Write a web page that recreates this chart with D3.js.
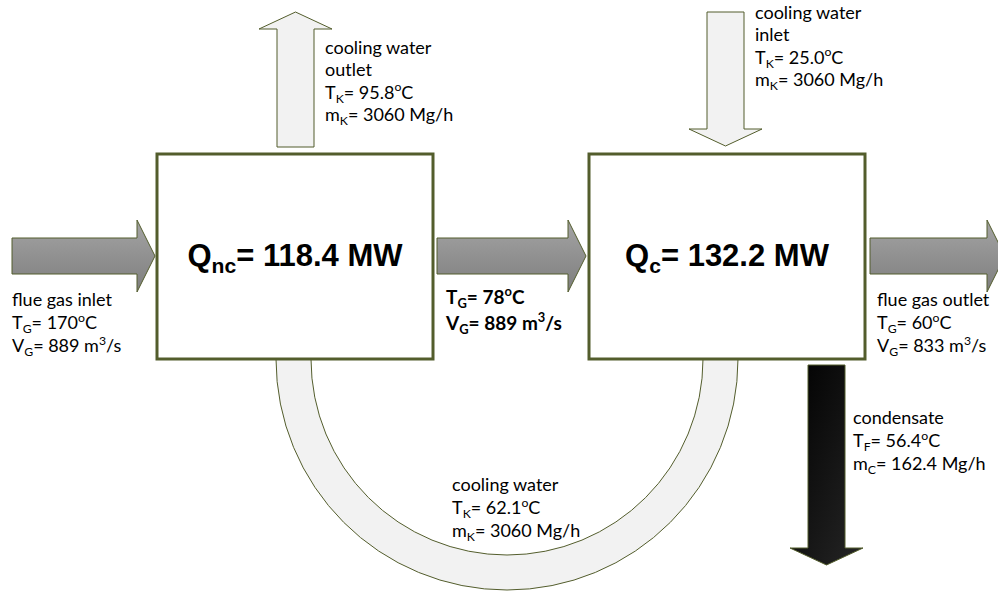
<!DOCTYPE html>
<html>
<head>
<meta charset="utf-8">
<script src="https://cdn.jsdelivr.net/npm/d3@7"></script>
<style>
  body { margin: 0; background: #fff; }
  svg { display: block; }
  .lbl { font-family: Lato, "Open Sans", sans-serif; font-size: 18px; fill: #000; }
  .bold { font-weight: bold; font-size: 19px; }
  .heat { font-family: "Liberation Sans", Arial, sans-serif; font-weight: bold; font-size: 31px; }
</style>
</head>
<body>
<div id="chart"></div>
<script>
const width = 998;
const height = 591;

// exchanger duties
const heatNames = ["nc", "c"];
const heatValues = [118.4, 132.2];

// flue gas: inlet, between exchangers, outlet
const gasNames = ["flue gas inlet", "", "flue gas outlet"];
const gasTemps = ["170", "78", "60"];
const gasFlows = [889, 889, 833];

// cooling water: inlet, between, outlet
const waterNames = [["cooling water", "inlet"], ["cooling water"], ["cooling water", "outlet"]];
const waterTemps = ["25.0", "62.1", "95.8"];
const waterFlows = [3060, 3060, 3060];

// condensate
const condName = "condensate";
const condTemp = "56.4";
const condFlow = "162.4";

const svg = d3.select("#chart")
  .append("svg")
  .attr("width", width)
  .attr("height", height);

const defs = svg.append("defs");

const gGrey = defs.append("linearGradient")
  .attr("id", "grey").attr("x1", 0).attr("y1", 0).attr("x2", 0).attr("y2", 1);
gGrey.append("stop").attr("offset", "0%").attr("stop-color", "#a4a4a4");
gGrey.append("stop").attr("offset", "100%").attr("stop-color", "#7e7e7e");

const gBlack = defs.append("linearGradient")
  .attr("id", "black").attr("x1", 0).attr("y1", 0).attr("x2", 1).attr("y2", 1);
gBlack.append("stop").attr("offset", "0%").attr("stop-color", "#000");
gBlack.append("stop").attr("offset", "100%").attr("stop-color", "#262626");

const olive = "#535d2c";

// U-shaped cooling water pipe
const arc = d3.arc()
  .innerRadius(196)
  .outerRadius(231)
  .startAngle(Math.PI / 2)
  .endAngle(Math.PI * 3 / 2);

svg.append("path")
  .attr("d", arc())
  .attr("transform", "translate(507,359)")
  .attr("fill", "#f2f2f2")
  .attr("stroke", olive)
  .attr("stroke-width", 1);

// exchanger boxes
const boxes = [
  { x: 157, y: 154, w: 276, h: 205 },
  { x: 589, y: 154, w: 276, h: 205 }
];

svg.selectAll(".box")
  .data(boxes)
  .enter()
  .append("rect")
  .attr("class", "box")
  .attr("x", d => d.x)
  .attr("y", d => d.y)
  .attr("width", d => d.w)
  .attr("height", d => d.h)
  .attr("fill", "#fff")
  .attr("stroke", olive)
  .attr("stroke-width", 3);

const line = d3.line();

// horizontal arrow pointing right
function rightArrow(x0, x1, cy) {
  const xb = x1 - 18;
  return line([
    [x0, cy - 18], [xb, cy - 18], [xb, cy - 36], [x1, cy],
    [xb, cy + 36], [xb, cy + 18], [x0, cy + 18]
  ]) + "Z";
}

// vertical arrow, tip at y1 (up if y1 < y0)
function vArrow(cx, y0, y1) {
  const s = y1 < y0 ? -1 : 1;
  const yb = y1 - s * 17;
  return line([
    [cx - 18.5, y0], [cx - 18.5, yb], [cx - 36.5, yb], [cx, y1],
    [cx + 36.5, yb], [cx + 18.5, yb], [cx + 18.5, y0]
  ]) + "Z";
}

const gasArrows = [[12, 155], [437, 586], [870, 1005]];
svg.selectAll(".gas")
  .data(gasArrows)
  .enter()
  .append("path")
  .attr("class", "gas")
  .attr("d", d => rightArrow(d[0], d[1], 256))
  .attr("fill", "url(#grey)")
  .attr("stroke", olive)
  .attr("stroke-width", 1);

svg.append("path")
  .attr("d", vArrow(295.5, 147, 12))
  .attr("fill", "#f2f2f2")
  .attr("stroke", olive);

svg.append("path")
  .attr("d", vArrow(725.5, 12, 146))
  .attr("fill", "#f2f2f2")
  .attr("stroke", olive);

svg.append("path")
  .attr("d", vArrow(826.5, 365, 565))
  .attr("fill", "url(#black)")
  .attr("stroke", olive);

// text with _{sub} and ^{sup} markup
function rich(sel, str) {
  const parts = str.split(/([_^]\{[^}]*\})/).filter(s => s.length);
  let shift = 0;
  parts.forEach(p => {
    const t = sel.append("tspan");
    let target = 0;
    let txt = p;
    if (p[0] === "_") { target = 0.22; txt = p.slice(2, -1); t.attr("font-size", "68%"); }
    else if (p[0] === "^") { target = -0.4; txt = p.slice(2, -1); t.attr("font-size", "68%"); }
    const fs = parseFloat(sel.style("font-size"));
    const dy = (target - shift) * fs;
    if (dy !== 0) t.attr("dy", dy);
    shift = target;
    t.text(txt);
  });
}

function block(x, y0, lh, lines, cls) {
  const g = svg.append("g");
  lines.forEach((s, i) => {
    const t = g.append("text")
      .attr("class", cls || "lbl")
      .attr("x", x)
      .attr("y", y0 + i * lh);
    rich(t, s);
  });
}

// heat duties
heatNames.forEach((n, i) => {
  const b = boxes[i];
  const t = svg.append("text")
    .attr("class", "heat")
    .attr("x", b.x + b.w / 2)
    .attr("y", 266)
    .attr("text-anchor", "middle");
  rich(t, `Q_{${n}}= ${heatValues[i]} MW`);
});

const gasLines = i => [`T_{G}= ${gasTemps[i]}^{o}C`, `V_{G}= ${gasFlows[i]} m^{3}/s`];
const waterLines = i => [`T_{K}= ${waterTemps[i]}^{o}C`, `m_{K}= ${waterFlows[i]} Mg/h`];

block(12, 306, 23, [gasNames[0], ...gasLines(0)]);
block(446, 304, 26, gasLines(1), "lbl bold");
block(877, 306, 23, [gasNames[2], ...gasLines(2)]);

block(325, 54, 22.3, [...waterNames[2], ...waterLines(2)]);
block(755, 19, 22.3, [...waterNames[0], ...waterLines(0)]);
block(452, 491, 23, [...waterNames[1], ...waterLines(1)]);

block(853, 424, 23, [condName, `T_{F}= ${condTemp}^{o}C`, `m_{C}= ${condFlow} Mg/h`]);
</script>
</body>
</html>
